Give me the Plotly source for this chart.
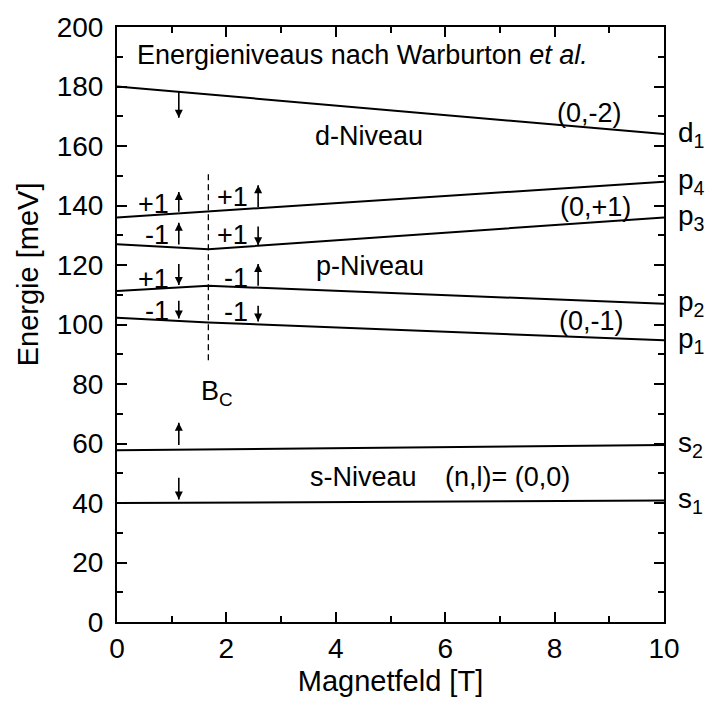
import plotly.graph_objects as go

# Energy levels vs. magnetic field (x: field in T, y: energy in meV)
B_C = 1.67
field_pts = [0, B_C, 10]

level_d1 = [180.0, 177.3, 164.0]
level_p4 = [136.0, 138.0, 148.0]
level_p3 = [127.0, 125.3, 136.0]
level_p2 = [111.3, 113.0, 107.0]
level_p1 = [102.3, 100.7, 94.7]
level_s2 = [57.7, 58.0, 59.5]
level_s1 = [40.0, 40.1, 40.8]

levels = [level_d1, level_p4, level_p3, level_p2, level_p1, level_s2, level_s1]
level_names = ["d<sub>1</sub>", "p<sub>4</sub>", "p<sub>3</sub>", "p<sub>2</sub>",
               "p<sub>1</sub>", "s<sub>2</sub>", "s<sub>1</sub>"]

# critical field marker (dashed)
bc_line_y = [88, 151]

# spin arrows: (field, tail energy, tip energy)
spin_arrows = [
    (1.13, 178.5, 169.5),
    (1.13, 59.5, 67.0),
    (1.13, 48.5, 41.2),
    (1.13, 137.9, 144.5),
    (2.58, 139.5, 146.8),
    (1.13, 126.9, 134.2),
    (2.58, 132.9, 126.6),
    (1.13, 120.3, 113.3),
    (2.58, 113.0, 120.3),
    (1.13, 108.0, 102.0),
    (2.58, 106.3, 101.0),
]

# angular momentum labels next to the arrows: (field, energy, text)
l_labels = [
    (0.99, 140.5, "+1"), (2.44, 142.9, "+1"),
    (0.99, 130.0, "-1"), (2.44, 130.0, "+1"),
    (0.99, 115.3, "+1"), (2.44, 115.6, "-1"),
    (0.99, 104.7, "-1"), (2.44, 104.3, "-1"),
]

# free text labels: (field, energy, text, anchor)
text_labels = [
    (0.33, 190.5, "Energieniveaus nach Warburton <i>et al.</i>", "left"),
    (4.61, 163.5, "d-Niveau", "center"),
    (8.64, 171.0, "(0,-2)", "center"),
    (8.74, 139.5, "(0,+1)", "center"),
    (4.63, 119.6, "p-Niveau", "center"),
    (8.68, 101.2, "(0,-1)", "center"),
    (4.50, 48.8, "s-Niveau", "center"),
    (7.13, 48.8, "(n,l)= (0,0)", "center"),
    (1.50, 77.0, "B<sub>C</sub>", "left"),
]

FONT = "Arial, 'Liberation Sans', sans-serif"

fig = go.Figure()

for ys in levels:
    fig.add_trace(go.Scatter(x=field_pts, y=ys, mode="lines",
                             line=dict(color="black", width=2),
                             showlegend=False, hoverinfo="skip"))

fig.add_trace(go.Scatter(x=[B_C, B_C], y=bc_line_y, mode="lines",
                         line=dict(color="black", width=1.3, dash="6px,4px"),
                         showlegend=False, hoverinfo="skip"))

# arrow shafts
shaft_x, shaft_y = [], []
for xa, tail, tip in spin_arrows:
    shaft_x += [xa, xa, None]
    shaft_y += [tail, tip, None]
fig.add_trace(go.Scatter(x=shaft_x, y=shaft_y, mode="lines",
                         line=dict(color="black", width=1.6),
                         showlegend=False, hoverinfo="skip"))

# arrow heads (tip of the arrow symbol sits on the data point)
fig.add_trace(go.Scatter(
    x=[a[0] for a in spin_arrows],
    y=[a[2] for a in spin_arrows],
    mode="markers",
    marker=dict(symbol=["arrow-up" if tip > tail else "arrow-down"
                        for _, tail, tip in spin_arrows],
                size=8, color="black", line=dict(width=0)),
    showlegend=False, hoverinfo="skip"))

for xa, ya, t in l_labels:
    fig.add_annotation(x=xa, y=ya, text=t, showarrow=False, xanchor="right",
                       yanchor="middle", font=dict(size=27, color="black", family=FONT))

for xa, ya, t, anc in text_labels:
    fig.add_annotation(x=xa, y=ya, text=t, showarrow=False, xanchor=anc,
                       yanchor="middle", font=dict(size=27, color="black", family=FONT))

for ys, name in zip(levels, level_names):
    fig.add_annotation(x=1, xref="paper", y=ys[-1], yref="y", text=name,
                       showarrow=False, xanchor="left", yanchor="middle",
                       xshift=12, font=dict(size=28, color="black", family=FONT))

# y-axis title, rotated, left of the tick labels
fig.add_annotation(x=-0.162, xref="paper", y=0.585, yref="paper",
                   text="Energie [meV]", textangle=-90, showarrow=False,
                   xanchor="center", yanchor="middle",
                   font=dict(size=29, color="black", family=FONT))

axis_common = dict(
    showgrid=False, zeroline=False, showline=True, linecolor="black",
    linewidth=2, mirror="ticks", ticks="inside", ticklen=10, tickwidth=2,
    tickcolor="black", tickfont=dict(size=28, color="black", family=FONT),
)

fig.update_xaxes(range=[0, 10], dtick=2, tick0=0,
                 minor=dict(ticks="inside", ticklen=6, tickwidth=2, dtick=1, tickcolor="black"),
                 title=dict(text="Magnetfeld [T]", font=dict(size=29, color="black", family=FONT),
                            standoff=8),
                 **axis_common)
fig.update_yaxes(range=[0, 200], dtick=20, tick0=0, ticklabelstandoff=6,
                 minor=dict(ticks="inside", ticklen=6, tickwidth=2, dtick=10, tickcolor="black"),
                 **axis_common)

fig.update_layout(
    width=705, height=704,
    margin=dict(l=117, r=41, t=22, b=82),
    paper_bgcolor="white", plot_bgcolor="white",
    font=dict(family=FONT, color="black"),
)

fig.write_html("out.html")
